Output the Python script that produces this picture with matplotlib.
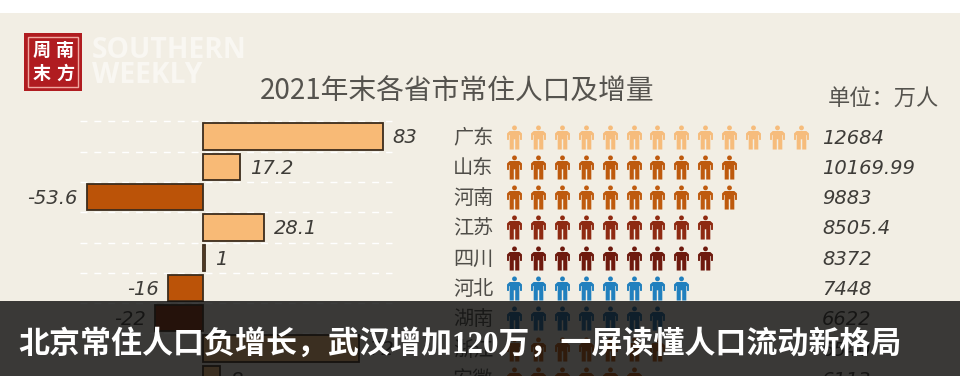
import matplotlib
matplotlib.use("Agg")
import matplotlib.pyplot as plt
import numpy as np
from matplotlib.patches import Rectangle
from matplotlib.path import Path

plt.rcParams['font.family'] = ['Noto Sans CJK SC', 'DejaVu Sans']

# data
provinces = ["广东", "山东", "河南", "江苏", "四川", "河北", "湖南", "浙江", "安徽"]
increase = [83, 17.2, -53.6, 28.1, 1, -16, -22, 72, 8]
increase_labels = ["83", "17.2", "-53.6", "28.1", "1", "-16", "-22", "72", "8"]
population_labels = ["12684", "10169.99", "9883", "8505.4", "8372", "7448", "6622", "6540", "6113"]
icon_counts = [13, 10, 10, 9, 9, 8, 7, 7, 6]

bar_colors = ["#F8BA76", "#F8BA76", "#BB5308", "#F8BA76", "#F8BA76",
              "#BB5308", "#8A2E08", "#F8BA76", "#F8BA76"]
icon_colors = ["#F6BC7C", "#BE5A0E", "#BE5A0E", "#8E2A12", "#6E1A0E",
               "#2180BE", "#1B6CA6", "#BE5A0E", "#BE5A0E"]

title = "2021年末各省市常住人口及增量"
headline = "北京常住人口负增长，武汉增加120万，一屏读懂人口流动新格局"

W, H = 960, 389
ROW0, ROW_H = 136.5, 30.3       # pixel centre of first row, row pitch
BAR0, BAR_SCALE = 203, 2.169    # pixel of zero, pixels per unit
ICON0, ICON_W = 514, 23.9       # pixel of first icon, icon pitch
LABEL_COLOR = "#4F4D48"


def full_axes(fig, zorder):
    ax = fig.add_axes([0, 0, 1, 1], zorder=zorder)
    ax.axis("off")
    ax.patch.set_alpha(0)
    return ax


def person_marker():
    head = Path.circle((0, 0.8), 0.2)
    body = Path([(-0.4, 0.54), (0.4, 0.54), (0.62, 0.34), (0.62, -0.2), (0.46, -0.2),
                 (0.46, 0.2), (0.4, 0.2), (0.4, -1), (0.06, -1), (0.06, -0.15),
                 (-0.06, -0.15), (-0.06, -1), (-0.4, -1), (-0.4, 0.2), (-0.46, 0.2),
                 (-0.46, -0.2), (-0.62, -0.2), (-0.62, 0.34), (-0.4, 0.54)], closed=True)
    return Path.make_compound_path(head, body)


fig = plt.figure(figsize=(W / 100, H / 100), dpi=100, facecolor="white")

# background and logo, in pixels
back = full_axes(fig, 0)
back.set_xlim(0, W)
back.set_ylim(H, 0)
back.add_patch(Rectangle((0, 13), W, 364, color="#F2EEE4", lw=0))
back.add_patch(Rectangle((24, 33), 58, 58, color="#B01C20", lw=0))
back.add_patch(Rectangle((28, 37), 50, 50, fill=False, ec="#F0A8A0", lw=1))
for ch, x, y in [("周", 42, 50), ("南", 65, 50), ("末", 42, 73), ("方", 65, 73)]:
    back.text(x, y, ch, color="white", fontsize=13, fontweight="bold", ha="center", va="center")
back.text(92, 50, "SOUTHERN", color="#F9F7F2", fontsize=20.3, fontweight="bold",
          family="Open Sans", va="center")
back.text(92, 75, "WEEKLY", color="#F9F7F2", fontsize=20.3, fontweight="bold",
          family="Open Sans", va="center")
back.text(457, 92, title, color="#55534E", fontsize=20, ha="center", va="center")
back.text(883, 99, "单位：万人", color="#55534E", fontsize=16, ha="center", va="center")

# bars, scaled so zero and one unit land where they do in the picture
ax = full_axes(fig, 1)
ax.set_xlim(-BAR0 / BAR_SCALE, (W - BAR0) / BAR_SCALE)
ax.set_ylim((H - ROW0) / ROW_H, -ROW0 / ROW_H)
rows = np.arange(len(provinces))
for r in rows[:-1]:
    ax.plot([-56.5, 87], [r - 0.5, r - 0.5], color="white", lw=1, ls=(0, (5, 5)), zorder=1)
ax.barh(rows, increase, height=0.87, color=bar_colors, edgecolor="#3C2C1C", linewidth=1.3, zorder=2)
for r, v, lab in zip(rows, increase, increase_labels):
    ax.annotate(lab, (v, r), xytext=(7 if v > 0 else -7, -1), textcoords="offset points",
                ha="left" if v > 0 else "right", va="center", fontsize=14, style="oblique",
                family="DejaVu Sans", color="#3E3C38")
    ax.text((453 - BAR0) / BAR_SCALE, r + 0.05, provinces[r], fontsize=14.5, color=LABEL_COLOR, va="center")
    ax.text((822 - BAR0) / BAR_SCALE, r + 0.05, population_labels[r], fontsize=14, style="oblique",
            family="DejaVu Sans", color="#3E3C38", va="center")

# people icons, one column per icon
icons = full_axes(fig, 2)
icons.set_xlim(-ICON0 / ICON_W, (W - ICON0) / ICON_W)
icons.set_ylim(ax.get_ylim())
marker = person_marker()
for r, n in zip(rows, icon_counts):
    icons.scatter(np.arange(n), np.full(n, r), marker=marker, s=300, color=icon_colors[r], linewidths=0)

# headline band and bottom margin on top of the chart
front = full_axes(fig, 3)
front.set_xlim(0, W)
front.set_ylim(H, 0)
front.add_patch(Rectangle((0, 301), W, 75, color="#0C0C0C", alpha=0.8, lw=0))
front.add_patch(Rectangle((0, 376), W, 13, color="white", lw=0))
front.text(18, 344, headline, color="white", fontsize=22.3, fontweight="bold", va="center",
           family=["Liberation Serif", "Noto Sans CJK SC"])

fig.savefig("out.png", dpi=100)
